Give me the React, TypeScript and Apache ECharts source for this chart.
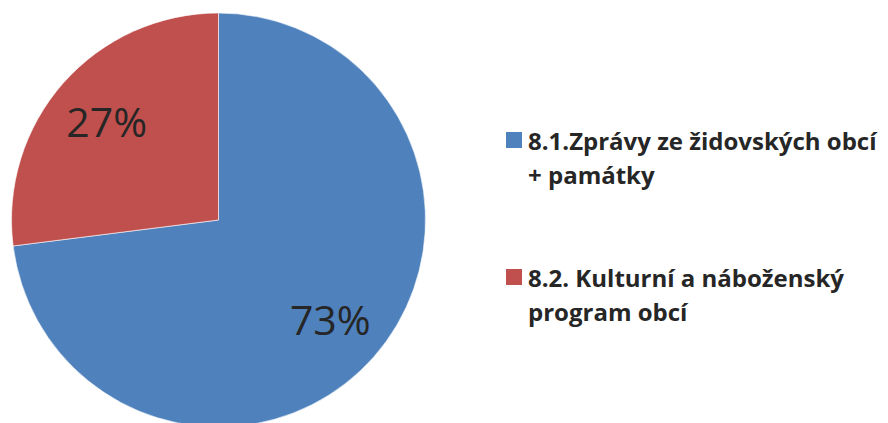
import React, { useEffect, useRef } from "react";
import * as echarts from "echarts";

const categories = ["8.1.Zprávy ze židovských obcí + památky", "8.2. Kulturní a náboženský program obcí"];
const legendLines = [
  ["8.1.Zprávy ze židovských obcí", "+ památky"],
  ["8.2. Kulturní a náboženský", "program obcí"],
];
const values = [73, 27];
const colors = ["#4F81BD", "#C0504D"];

export default function App() {
  const ref = useRef<HTMLDivElement>(null);
  useEffect(() => {
    if (!ref.current) return;
    const chart = echarts.init(ref.current, null, { renderer: "svg" });
    const data = categories.map((name, i) => ({ name, value: values[i], itemStyle: { color: colors[i] } }));
    const total = values.reduce((a, b) => a + b, 0);
    const center = [218.5, 220];
    const legendTop = [140, 277];
    const lineH = 34;
    const graphics: any[] = [];
    legendLines.forEach((lines, i) => {
      graphics.push({
        type: "rect",
        shape: { x: 506, y: legendTop[i] - 8, width: 16, height: 16 },
        style: { fill: colors[i] },
      });
      lines.forEach((ln, j) => {
        graphics.push({
          type: "text",
          x: 528,
          y: legendTop[i] + j * lineH,
          style: {
            text: ln,
            fill: "#262626",
            font: "bold 24px 'Open Sans'",
            verticalAlign: "middle",
            align: "left",
          },
        });
      });
    });
    chart.setOption({
      animation: false,
      backgroundColor: "#ffffff",
      graphic: graphics,
      series: [
        {
          type: "pie",
          center,
          radius: [0, 207],
          startAngle: 90,
          clockwise: true,
          silent: true,
          label: { show: false },
          labelLine: { show: false },
          itemStyle: { borderColor: "#ffffff", borderWidth: 0.6 },
          data,
        },
        {
          type: "pie",
          center,
          radius: [85, 207],
          startAngle: 90,
          clockwise: true,
          silent: true,
          itemStyle: { color: "rgba(0,0,0,0)" },
          label: {
            show: true,
            position: "inside",
            formatter: (p: any) => Math.round((p.value / total) * 100) + "%",
            color: "#262626",
            fontFamily: "'Open Sans'",
            fontSize: 41,
            fontWeight: "normal",
          },
          labelLine: { show: false },
          data: categories.map((name, i) => ({ name, value: values[i] })),
        },
      ],
    });
    return () => chart.dispose();
  }, []);
  return (
    <div
      ref={ref}
      style={{ position: "fixed", left: 0, top: 0, width: 888, height: 423 }}
    />
  );
}
